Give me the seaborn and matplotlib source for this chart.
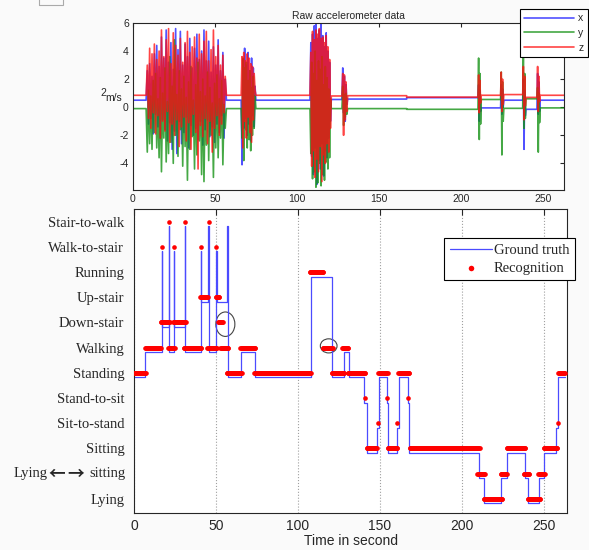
import numpy as np
import pandas as pd
import matplotlib
matplotlib.use('Agg')
import matplotlib.pyplot as plt
import matplotlib.transforms as mtransforms
import seaborn as sns
from matplotlib.patches import Ellipse, Rectangle

# ---- activity labels (bottom panel y axis, from bottom to top) ----
states = ['Lying', 'Lying←→sitting', 'Sitting', 'Sit-to-stand', 'Stand-to-sit',
          'Standing', 'Walking', 'Down-stair', 'Up-stair', 'Running',
          'Walk-to-stair', 'Stair-to-walk']

# ---- ground truth: change times (s) and state entered ----
gt_start = [0, 6.7, 16.8, 17.1, 21.3, 21.6, 24.3, 24.6, 31.0, 31.3,
            40.6, 40.9, 45.4, 45.7, 50.1, 50.4, 56.8, 57.1, 65.5, 73.6,
            107.7, 120.6, 127.9, 130.8, 140.5, 141.9, 148.2, 149.6, 154.1, 154.9,
            160.2, 161.8, 167.3, 167.9, 210.1, 213.1, 224.0, 227.7, 238.4, 240.5,
            247.0, 250.0, 257.1, 258.5]
gt_state = ['Standing', 'Walking', 'Walk-to-stair', 'Down-stair', 'Stair-to-walk',
            'Walking', 'Walk-to-stair', 'Down-stair', 'Stair-to-walk', 'Walking',
            'Walk-to-stair', 'Up-stair', 'Stair-to-walk', 'Walking', 'Walk-to-stair',
            'Up-stair', 'Stair-to-walk', 'Standing', 'Walking', 'Standing',
            'Running', 'Standing', 'Walking', 'Standing', 'Stand-to-sit',
            'Sitting', 'Sit-to-stand', 'Standing', 'Stand-to-sit', 'Sitting',
            'Sit-to-stand', 'Standing', 'Stand-to-sit', 'Sitting', 'Lying←→sitting',
            'Lying', 'Lying←→sitting', 'Sitting', 'Lying←→sitting', 'Lying',
            'Lying←→sitting', 'Sitting', 'Sit-to-stand', 'Standing']
t_end = 263.0

# ---- recognition output: segments of constant label ----
rec_start = [0, 6.7, 17.0, 16.4, 21.3, 20.9, 24.3, 23.9, 31.0, 30.4,
             40.6, 40.2, 45.6, 44.8, 50.3, 49.9, 51.3, 52.7, 56.4, 64.9,
             73.2, 107.1, 115.1, 120.6, 126.9, 130.4, 141.1, 141.9, 149.0, 149.0,
             154.3, 154.7, 160.4, 161.2, 167.3, 168.0, 209.4, 213.1, 223.6, 227.3,
             237.6, 240.1, 246.6, 249.8, 258.5, 258.5]
rec_end = [7.5, 16.8, 17.0, 21.9, 21.3, 24.9, 24.3, 31.6, 31.0, 41.2,
           40.6, 45.4, 45.6, 50.7, 50.3, 52.3, 54.3, 57.8, 65.9, 74.0,
           107.9, 115.8, 121.3, 128.4, 130.8, 141.1, 141.1, 148.2, 149.0, 154.7,
           154.3, 160.8, 160.4, 167.9, 167.3, 210.8, 214.1, 224.7, 227.7, 238.8,
           241.2, 248.0, 250.6, 258.2, 258.5, 263.0]
rec_state = ['Standing', 'Walking', 'Walk-to-stair', 'Down-stair', 'Stair-to-walk',
             'Walking', 'Walk-to-stair', 'Down-stair', 'Stair-to-walk', 'Walking',
             'Walk-to-stair', 'Up-stair', 'Stair-to-walk', 'Walking', 'Walk-to-stair',
             'Up-stair', 'Down-stair', 'Walking', 'Standing', 'Walking',
             'Standing', 'Running', 'Walking', 'Standing', 'Walking',
             'Standing', 'Stand-to-sit', 'Sitting', 'Sit-to-stand', 'Standing',
             'Stand-to-sit', 'Sitting', 'Sit-to-stand', 'Standing', 'Stand-to-sit',
             'Sitting', 'Lying←→sitting', 'Lying', 'Lying←→sitting', 'Sitting',
             'Lying←→sitting', 'Lying', 'Lying←→sitting', 'Sitting', 'Sit-to-stand',
             'Standing']

# ---- raw accelerometer: resting levels between bursts ----
rest_start = [0, 57, 75, 121, 131, 167, 212.5, 226.3, 239.8, 248.5]
rest_end = [8, 66, 108, 127.5, 167, 210.5, 224.3, 237.8, 246.5, 263]
rest_x = [0.5, 0.5, 0.5, 0.55, 0.58, 0.68, -0.05, 0.5, -0.15, 0.5]
rest_y = [-0.1, -0.1, -0.1, -0.1, -0.1, -0.15, 0.55, -0.08, 0.6, -0.05]
rest_z = [0.85, 0.85, 0.85, 0.8, 0.82, 0.72, 0.85, 0.9, 0.7, 0.85]

# ---- raw accelerometer: bursts of movement (peaks) ----
burst_start = [8, 66, 108, 127.5, 210.5, 224.3, 237.8, 246.5]
burst_end = [57, 75, 121, 131, 212.5, 226.3, 239.8, 248.5]
burst_x = [
    [0.5, 2.6, -1.2, 3.1, -0.8, 2.2, -1.9, 3.8, -0.5, 4.4, -1.4, 2.9, -2.2, 5.0, -0.9, 3.5, -1.6,
     5.5, -2.4, 3.2, -1.1, 4.6, -3.0, 2.7, -1.7, 5.6, -3.3, 4.1, -1.0, 5.4, -2.6, 3.0, -1.8, 4.5,
     -0.7, 3.6, -2.9, 4.9, -1.3, 2.8, -2.0, 4.2, -1.5, 5.2, -2.3, 3.4, -1.0, 4.0, -2.7, 5.5, -1.6,
     3.3, -0.9, 4.7, -2.1, 2.5, -1.4, 4.3, -2.5, 3.0, -1.2, 4.8, -1.8, 2.6, -0.6, 3.9, -2.2, 2.0, 0.5],
    [0.5, -4.1, 3.4, -1.5, 4.2, -0.8, 3.0, -2.0, 3.9, -1.2, 2.6, -2.4, 3.5, -0.6, 2.8, -1.4, 1.5, 0.5],
    [0.5, 4.6, -3.5, 5.2, -4.8, 5.8, -2.9, 6.0, -5.5, 4.9, -3.8, 5.5, -4.4, 5.9, -2.6, 5.1, -4.9,
     4.3, -3.1, 5.3, -3.6, 4.0, -2.2, 3.2, -1.0, 0.55],
    [0.55, 2.8, -0.4, 2.2, -1.0, 1.6, 0.2, 0.58],
    [0.68, 1.6, -1.0, 1.2, -0.3, -0.05],
    [-0.05, 1.6, -0.5, 1.3, 0.0, 0.5],
    [0.5, 2.0, -3.0, 1.2, -0.6, -0.15],
    [-0.15, 2.4, -0.5, 1.8, -0.3, 0.5],
]
burst_y = [
    [-0.1, -3.2, 1.2, -2.6, 0.8, -3.0, 1.9, -1.8, 2.4, -2.9, 0.6, -3.6, 2.1, -4.6, 1.0, -2.2, 2.8,
     -3.9, 0.4, -3.3, 3.6, -2.5, 1.5, -4.0, 4.8, -2.0, 0.9, -3.5, 2.6, -1.6, 1.3, -4.2, 2.2, -2.8,
     0.7, -5.2, 1.8, -3.0, 2.9, -2.1, 0.5, -4.4, 1.6, -3.4, 3.2, -2.4, 1.1, -4.8, 2.0, -5.3, 0.8,
     -2.7, 2.5, -3.8, 1.4, -2.0, 0.3, -5.0, 1.7, -2.9, 2.3, -3.6, 0.6, -2.2, 1.9, -4.1, 0.2, -1.5, -0.1],
    [-0.1, -2.2, 3.5, -3.8, 2.8, -1.6, 3.2, -2.9, 1.9, -2.3, 2.6, -3.1, 1.4, -2.0, 2.2, -1.5, 0.8, -0.1],
    [-0.1, -3.3, 3.2, -5.1, 2.4, -4.6, 4.0, -5.7, 1.9, -5.4, 3.3, -4.0, 2.7, -5.6, 3.6, -4.8, 1.6,
     -5.2, 2.9, -3.9, 2.1, -4.4, 1.3, -3.6, 0.6, -0.1],
    [-0.1, 1.5, -1.3, 0.9, -0.7, 1.0, -0.5, -0.1],
    [-0.15, 3.5, -2.3, 2.4, -1.2, 0.55],
    [0.55, 2.5, -3.4, 1.8, -1.0, -0.08],
    [-0.08, 3.6, -1.5, 2.4, -0.8, 0.6],
    [0.6, 1.4, -3.2, 1.0, -1.1, -0.05],
]
burst_z = [
    [0.85, 3.0, -0.8, 4.2, -1.5, 3.8, -0.4, 4.5, -1.9, 3.4, -0.6, 4.0, -2.2, 5.5, -1.0, 3.6, -1.7,
     4.8, -0.3, 5.6, -2.5, 3.1, -1.2, 5.3, -2.0, 4.4, -0.9, 3.7, -2.8, 4.9, -1.4, 3.2, -0.7, 4.6,
     -2.4, 5.4, -1.1, 3.9, -3.0, 4.3, -0.5, 5.0, -1.8, 3.5, -4.4, 5.2, -1.3, 3.8, -2.1, 4.7, -0.8,
     5.4, -2.6, 3.3, -1.0, 4.1, -3.2, 5.5, -1.5, 3.6, -0.6, 4.4, -2.0, 3.0, -1.2, 3.7, -0.4, 2.2, 0.85],
    [0.85, 3.6, -2.9, 3.9, -1.0, 3.3, -2.2, 3.8, -0.7, 3.5, -1.8, 3.1, -2.5, 2.9, -0.9, 2.4, 1.2, 0.85],
    [0.85, 3.9, -4.2, 5.4, -3.1, 4.8, -5.0, 5.5, -3.7, 5.2, -4.6, 5.6, -2.8, 4.9, -5.3, 5.0, -3.4,
     4.6, -4.0, 5.1, -2.6, 4.3, -3.2, 3.4, -1.5, 0.8],
    [0.8, 2.4, -2.0, 2.3, -0.9, 1.8, -0.3, 0.82],
    [0.72, 2.3, -0.4, 1.9, 0.3, 0.85],
    [0.85, 2.5, -0.3, 2.0, 0.2, 0.9],
    [0.9, 2.9, -0.9, 2.2, 0.1, 0.7],
    [0.7, 2.9, -0.3, 2.2, 0.4, 0.85],
]

sns.set_style('white')
plt.rcParams['font.family'] = ['Liberation Sans', 'DejaVu Sans']
plt.rcParams['axes.linewidth'] = 0.8
plt.rcParams['axes.unicode_minus'] = False

# build the raw signal table (rest segments + bursts, in time order)
segs = []
for s, e, a, b, c in zip(rest_start, rest_end, rest_x, rest_y, rest_z):
    segs.append((s, [s, e], [a, a], [b, b], [c, c]))
for s, e, a, b, c in zip(burst_start, burst_end, burst_x, burst_y, burst_z):
    segs.append((s, list(np.linspace(s, e, len(a))), a, b, c))
segs.sort(key=lambda q: q[0])
rows = []
for ch, k in [('x', 2), ('y', 3), ('z', 4)]:
    for seg in segs:
        for t, v in zip(seg[1], seg[k]):
            rows.append((t, v, ch))
raw = pd.DataFrame(rows, columns=['t', 'acc', 'axis'])

lvl = {s: i for i, s in enumerate(states)}
gt_t = gt_start + [t_end]
gt_y = [lvl[s] - 0.18 for s in gt_state] + [lvl[gt_state[-1]] - 0.18]

rec_t, rec_y = [], []
for s, e, st in zip(rec_start, rec_end, rec_state):
    ts = [s] if e - s < 0.2 else list(np.arange(s, e + 0.01, 0.35))
    rec_t += ts
    rec_y += [lvl[st]] * len(ts)

fig = plt.figure(figsize=(5.89, 5.5), dpi=100, facecolor='#fafafa')
ax1 = fig.add_axes([133 / 589, 1 - 190 / 550, 431 / 589, 167 / 550])
ax2 = fig.add_axes([134 / 589, 1 - 513 / 550, 433 / 589, 304 / 550])

# ---- top: raw accelerometer data ----
sns.lineplot(data=raw, x='t', y='acc', hue='axis', estimator=None, sort=False,
             palette={'x': '#2020ff', 'y': '#109010', 'z': '#ff1010'},
             lw=1.2, alpha=0.78, ax=ax1)
ax1.set_xlim(0, 263)
ax1.set_ylim(-5.9, 6)
ax1.set_xticks(range(0, 251, 50))
ax1.set_yticks(range(-4, 7, 2))
ax1.tick_params(direction='in', length=3, top=True, right=True, labelsize=7.5, pad=3)
ax1.set_xlabel('')
ax1.set_ylabel('')
ax1.set_title('Raw accelerometer data', fontsize=7.5, pad=3)
fig.text(100 / 589, 1 - 93 / 550, '2', fontsize=7.5, va='center', ha='left')
fig.text(105 / 589, 1 - 98 / 550, 'm/s', fontsize=7.5, va='center', ha='left')
h, l = ax1.get_legend_handles_labels()
ax1.legend(h, l, loc='upper left', bbox_to_anchor=(520 / 589, 1 - 9 / 550),
           bbox_transform=fig.transFigure, fontsize=7.5, frameon=True, fancybox=False,
           edgecolor='black', handlelength=4.8, handletextpad=0.4, labelspacing=0.45,
           borderaxespad=0, borderpad=0.4, framealpha=1)
ax1.get_legend().get_frame().set_linewidth(0.8)

# ---- bottom: ground truth vs recognition ----
sns.lineplot(x=gt_t, y=gt_y, estimator=None, sort=False, drawstyle='steps-post',
             color='#4b4bff', lw=0.9, ax=ax2, label='Ground truth')
sns.scatterplot(x=rec_t, y=rec_y, color='#ff0000', s=11, linewidth=0, ax=ax2,
                label='Recognition', zorder=3)
ax2.set_xlim(0, 264)
ax2.set_ylim(-0.56, 11.5)
ax2.set_xticks(range(0, 251, 50))
ax2.set_yticks(range(len(states)))
ylabels = ['' if s == 'Lying←→sitting' else s for s in states]
ax2.set_yticklabels(ylabels, fontsize=10.5, family=['Liberation Serif', 'DejaVu Serif'])
ax2.set_yticks(range(0, 11, 2), minor=True)
ax2.tick_params(axis='y', which='major', length=0, pad=7)
ax2.tick_params(axis='y', which='minor', direction='in', length=4, left=True, right=True)
ax2.tick_params(axis='x', direction='in', length=4, top=True, labelsize=10, pad=4)
ax2.grid(axis='x', which='major', ls=':', color='#a0a0a0', lw=0.8)
ax2.grid(axis='y', which='minor', ls=':', color='#a0a0a0', lw=0.8)
ax2.set_xlabel('Time in second', fontsize=10, labelpad=1)
ax2.set_ylabel('')

# the "Lying<->sitting" label, with the bold arrows of the original
tr = mtransforms.blended_transform_factory(fig.transFigure, ax2.transData)
yl = lvl['Lying←→sitting']
ax2.text(47.5 / 589, yl, 'Lying', transform=tr, ha='right', va='center', fontsize=10.5,
         family='Liberation Serif', clip_on=False)
ax2.text(57 / 589, yl, '←', transform=tr, ha='center', va='center', fontsize=12,
         fontweight='bold', family=['Noto Sans CJK SC', 'DejaVu Sans'], clip_on=False)
ax2.text(76 / 589, yl, '→', transform=tr, ha='center', va='center', fontsize=12,
         fontweight='bold', family=['Noto Sans CJK SC', 'DejaVu Sans'], clip_on=False)
ax2.text(125 / 589, yl, 'sitting', transform=tr, ha='right', va='center', fontsize=10.5,
         family='Liberation Serif', clip_on=False)

ax2.add_patch(Ellipse((55.7, 6.93), 11.6, 0.97, fill=False, ec='#444444', lw=0.8))
ax2.add_patch(Ellipse((118.7, 6.07), 10.2, 0.56, fill=False, ec='#444444', lw=0.8))
leg = ax2.legend(loc='upper left', bbox_to_anchor=(444 / 589, 1 - 238 / 550),
                 bbox_transform=fig.transFigure, frameon=True, fancybox=False,
                 edgecolor='black', framealpha=1, borderaxespad=0, handlelength=2.9,
                 handletextpad=0.1, labelspacing=0.3, markerscale=1.2,
                 prop={'family': 'Liberation Serif', 'size': 10.5})
leg.get_frame().set_linewidth(0.8)

fig.add_artist(Rectangle((39 / 589, 1 - 5 / 550), 24 / 589, 6 / 550, fill=False,
                         ec='#aaaaaa', lw=0.8, transform=fig.transFigure))

fig.savefig('out.png', dpi=100, facecolor=fig.get_facecolor())
